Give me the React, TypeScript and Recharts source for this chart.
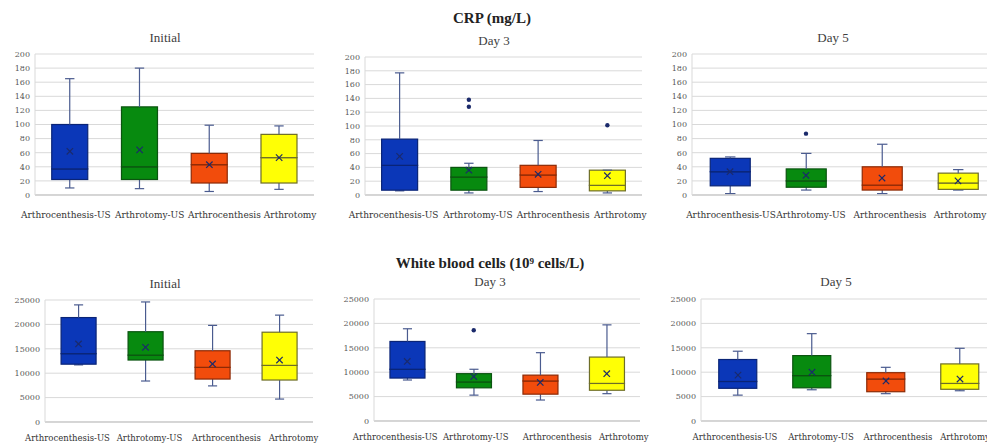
import React from "react";
import { ComposedChart, Bar, Scatter, XAxis, YAxis, CartesianGrid } from "recharts";

const groups = ["Arthrocenthesis-US", "Arthrotomy-US", "Arthrocenthesis", "Arthrotomy"];
const boxFill = ["#0b37b8", "#078a0f", "#f24c0c", "#ffff05"];
const boxStroke = ["#0a2476", "#0b5410", "#8c2a06", "#6e6e28"];

// CRP (mg/L): [min, q1, median, q3, max] per group
const crpInitialBox = [[10, 22, 37, 100, 165], [9, 22, 40, 125, 180], [5, 17, 43, 59, 99], [8, 17, 53, 86, 98]];
const crpInitialMean = [62, 64, 43, 53];
const crpInitialOut = [[], [], [], []];

const crpDay3Box = [[6, 7, 43, 81, 177], [3, 7, 26, 40, 46], [5, 11, 29, 43, 79], [3, 6, 14, 36, 36]];
const crpDay3Mean = [56, 36, 30, 28];
const crpDay3Out = [[], [128, 138], [], [101]];

const crpDay5Box = [[2, 13, 33, 52, 54], [7, 11, 20, 37, 59], [2, 7, 14, 40, 72], [7, 8, 17, 31, 36]];
const crpDay5Mean = [33, 28, 24, 20];
const crpDay5Out = [[], [87], [], []];

// White blood cells
const wbcInitialBox = [[11700, 11850, 14000, 21400, 24000], [8400, 12700, 13700, 18500, 24600], [7400, 8800, 11200, 14600, 19800], [4700, 8600, 11600, 18400, 21900]];
const wbcInitialMean = [16000, 15300, 11900, 12700];
const wbcInitialOut = [[], [], [], []];

const wbcDay3Box = [[8400, 8800, 10600, 16300, 18900], [5300, 6800, 8000, 9700, 10600], [4300, 5500, 8200, 9400, 14000], [5600, 6300, 7700, 13100, 19700]];
const wbcDay3Mean = [12200, 9100, 7900, 9700];
const wbcDay3Out = [[], [18600], [], []];

const wbcDay5Box = [[5300, 6700, 8100, 12600, 14300], [6400, 6800, 9300, 13400, 17900], [5600, 6000, 8600, 9900, 11000], [6200, 6500, 7700, 11700, 14900]];
const wbcDay5Mean = [9400, 10000, 8200, 8600];
const wbcDay5Out = [[], [], [], []];

const crpTicks = [0, 20, 40, 60, 80, 100, 120, 140, 160, 180, 200];
const wbcTicks = [0, 5000, 10000, 15000, 20000, 25000];

const WHISKER = "#4a5b8f";
const MARK = "#1b2a6b";

function buildRows(box: number[][], mean: number[], out: number[][]) {
  return groups.map((name, i) => {
    const [mn, q1, md, q3, mx] = box[i];
    return {
      name,
      fill: boxFill[i],
      stroke: boxStroke[i],
      base: mn,
      lowW: q1 - mn,
      lowB: md - q1,
      highB: q3 - md,
      highW: mx - q3,
      mean: mean[i],
      out1: out[i][0] ?? null,
      out2: out[i][1] ?? null,
    };
  });
}

const Empty = () => <g />;

function LowWhisker(p: any) {
  const cx = p.x + p.width / 2;
  const cap = p.width * 0.13;
  const yb = p.y + p.height;
  return (
    <g stroke={WHISKER} strokeWidth={1.2}>
      <line x1={cx} x2={cx} y1={p.y} y2={yb} />
      <line x1={cx - cap} x2={cx + cap} y1={yb} y2={yb} />
    </g>
  );
}

function HighWhisker(p: any) {
  const cx = p.x + p.width / 2;
  const cap = p.width * 0.13;
  return (
    <g stroke={WHISKER} strokeWidth={1.2}>
      <line x1={cx} x2={cx} y1={p.y} y2={p.y + p.height} />
      <line x1={cx - cap} x2={cx + cap} y1={p.y} y2={p.y} />
    </g>
  );
}

function BoxPart(p: any) {
  return (
    <rect x={p.x} y={p.y} width={p.width} height={Math.max(p.height, 0)} fill={p.payload.fill} stroke={p.payload.stroke} strokeWidth={1.2} />
  );
}

function MeanMark(p: any) {
  const { cx, cy } = p;
  const s = 3.2;
  return (
    <g stroke={MARK} strokeWidth={1.2}>
      <line x1={cx - s} x2={cx + s} y1={cy - s} y2={cy + s} />
      <line x1={cx - s} x2={cx + s} y1={cy + s} y2={cy - s} />
    </g>
  );
}

const outlierShape = (key: string) => (p: any) =>
  p.payload[key] == null ? <g /> : <circle cx={p.cx} cy={p.cy} r={2.2} fill={MARK} />;

// category labels sit slightly off the box centres in the original
const makeTick = (shift: number[], size: number) => (p: any) => (
  <text
    x={p.x + (shift[p.index] ?? 0)}
    y={p.y}
    dy="0.71em"
    textAnchor="middle"
    fontSize={size}
    fill="#333"
    fontFamily="DejaVu Serif"
  >
    {p.payload.value}
  </text>
);

type PanelProps = {
  rows: any[];
  ticks: number[];
  left: number;
  top: number;
  width: number;
  height: number;
  plotLeft: number;
  plotRight: number;
  plotTop: number;
  plotBottom: number;
  labelGap: number;
  labelShift: number[];
  labelSize: number;
};

function BoxPanel(props: PanelProps) {
  const { rows, ticks, left, top, width, height, plotLeft, plotRight, plotTop, plotBottom, labelGap, labelShift, labelSize } = props;
  const max = ticks[ticks.length - 1];
  return (
    <div style={{ position: "absolute", left, top }}>
      <ComposedChart
        width={width}
        height={height}
        data={rows}
        barCategoryGap="24%"
        margin={{ top: plotTop - top, left: 0, right: left + width - plotRight, bottom: 0 }}
      >
        <CartesianGrid vertical={false} stroke="#d9d9d9" />
        <XAxis
          dataKey="name"
          type="category"
          interval={0}
          height={top + height - plotBottom}
          tickLine={false}
          tickSize={0}
          tickMargin={labelGap}
          axisLine={{ stroke: "#bfbfbf" }}
          tick={makeTick(labelShift, labelSize)}
        />
        <YAxis
          type="number"
          domain={[0, max]}
          ticks={ticks}
          interval={0}
          width={plotLeft - left}
          tickLine={false}
          tickSize={0}
          tickMargin={5}
          axisLine={{ stroke: "#d9d9d9" }}
          tick={{ fontSize: 8, fill: "#595959", fontFamily: "DejaVu Serif" }}
        />
        <Bar dataKey="base" stackId="b" shape={Empty} isAnimationActive={false} />
        <Bar dataKey="lowW" stackId="b" shape={LowWhisker} isAnimationActive={false} />
        <Bar dataKey="lowB" stackId="b" shape={BoxPart} isAnimationActive={false} />
        <Bar dataKey="highB" stackId="b" shape={BoxPart} isAnimationActive={false} />
        <Bar dataKey="highW" stackId="b" shape={HighWhisker} isAnimationActive={false} />
        <Scatter dataKey="mean" shape={MeanMark} isAnimationActive={false} />
        <Scatter dataKey="out1" shape={outlierShape("out1")} isAnimationActive={false} />
        <Scatter dataKey="out2" shape={outlierShape("out2")} isAnimationActive={false} />
      </ComposedChart>
    </div>
  );
}

function Title({ text, x, y, bold }: { text: string; x: number; y: number; bold?: boolean }) {
  return (
    <div
      style={{
        position: "absolute",
        left: x,
        top: y,
        transform: "translate(-50%, -50%)",
        whiteSpace: "nowrap",
        fontFamily: "Liberation Serif",
        fontSize: bold ? 15 : 13,
        fontWeight: bold ? 700 : 400,
        color: bold ? "#222" : "#404040",
        lineHeight: 1,
      }}
    >
      {text}
    </div>
  );
}

export default function App() {
  return (
    <div style={{ position: "absolute", left: 0, top: 0, width: 987, height: 445, overflow: "hidden", background: "#fff" }}>
      <BoxPanel rows={buildRows(crpInitialBox, crpInitialMean, crpInitialOut)} ticks={crpTicks}
        left={0} top={0} width={330} height={225} plotLeft={35} plotRight={314} plotTop={54} plotBottom={195}
        labelGap={17} labelShift={[-4, 10, 15, 11]} labelSize={9} />
      <BoxPanel rows={buildRows(crpDay3Box, crpDay3Mean, crpDay3Out)} ticks={crpTicks}
        left={330} top={0} width={330} height={225} plotLeft={365} plotRight={642} plotTop={57} plotBottom={195}
        labelGap={17} labelShift={[-6, 9, 15, 13]} labelSize={9} />
      <BoxPanel rows={buildRows(crpDay5Box, crpDay5Mean, crpDay5Out)} ticks={crpTicks}
        left={657} top={0} width={345} height={225} plotLeft={692} plotRight={996} plotTop={54} plotBottom={195}
        labelGap={17} labelShift={[1, 5, 8, 2]} labelSize={9} />
      <BoxPanel rows={buildRows(wbcInitialBox, wbcInitialMean, wbcInitialOut)} ticks={wbcTicks}
        left={0} top={225} width={330} height={220} plotLeft={45} plotRight={313} plotTop={300} plotBottom={422}
        labelGap={13} labelShift={[-11, 4, 14, 14]} labelSize={8.5} />
      <BoxPanel rows={buildRows(wbcDay3Box, wbcDay3Mean, wbcDay3Out)} ticks={wbcTicks}
        left={330} top={225} width={330} height={220} plotLeft={374} plotRight={640} plotTop={299} plotBottom={421}
        labelGap={13} labelShift={[-12, 2, 17, 17]} labelSize={8.5} />
      <BoxPanel rows={buildRows(wbcDay5Box, wbcDay5Mean, wbcDay5Out)} ticks={wbcTicks}
        left={660} top={225} width={345} height={220} plotLeft={701} plotRight={997} plotTop={299} plotBottom={421}
        labelGap={13} labelShift={[-3, 9, 12, 5]} labelSize={8.5} />

      <Title text="CRP (mg/L)" x={492} y={18} bold />
      <Title text="Initial" x={165} y={37} />
      <Title text="Day 3" x={494} y={40} />
      <Title text="Day 5" x={833} y={37} />
      <Title text="White blood cells (10⁹ cells/L)" x={490} y={263} bold />
      <Title text="Initial" x={165} y={283} />
      <Title text="Day 3" x={490} y={281} />
      <Title text="Day 5" x={836} y={281} />
    </div>
  );
}
